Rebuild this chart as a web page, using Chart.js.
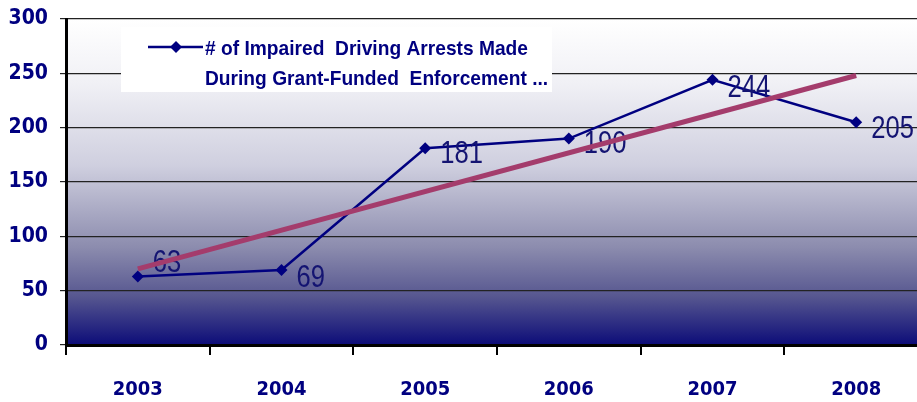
<!DOCTYPE html>
<html lang="en">
<head>
  <meta charset="UTF-8">
  <title>Impaired Driving Arrests</title>
  <script src="https://cdn.jsdelivr.net/npm/chart.js"></script>
  <style>
    body { margin: 0; background: #fff; overflow: hidden; }
    #wrap { position: absolute; left: 0; top: 0; width: 934px; height: 402px; }
  </style>
</head>
<body>
<div id="wrap"><canvas id="linha" width="934" height="402"></canvas></div>
<script>
// dados
var anos = ['2003', '2004', '2005', '2006', '2007', '2008'];
var prisoes = [63, 69, 181, 190, 244, 205];
// linha de tendencia: so as pontas
var tendencia = [70, null, null, null, null, 248];
var eixoMin = 0;
var eixoMax = 300;
var eixoPasso = 50;
var legendaLinhas = ['# of Impaired  Driving Arrests Made', 'During Grant-Funded  Enforcement ...'];

var azul = '#000080';
var condensada = '"DejaVu Sans Condensed", "Liberation Sans", sans-serif';
var fonte = '"Liberation Sans", Arial, sans-serif';

// texto "apertado" na horizontal (imita Arial Narrow)
function textoEstreito(ctx, txt, x, y, escala) {
  ctx.save();
  ctx.translate(x, y);
  ctx.scale(escala, 1);
  ctx.fillText(txt, 0, 0);
  ctx.restore();
}

// fundo degrade da area do grafico
var fundoPlugin = {
  id: 'fundo',
  beforeDraw: function(chart) {
    var a = chart.chartArea, ctx = chart.ctx;
    var g = ctx.createLinearGradient(0, a.top, 0, a.bottom);
    g.addColorStop(0, '#ffffff');
    g.addColorStop(0.2, '#f0f0f5');
    g.addColorStop(0.45, '#cfcfdf');
    g.addColorStop(0.7, '#8c8cae');
    g.addColorStop(0.85, '#575790');
    g.addColorStop(1, '#0c0c78');
    ctx.save();
    ctx.fillStyle = g;
    ctx.fillRect(a.left, a.top, a.right - a.left, a.bottom - a.top);
    ctx.restore();
  }
};

// rotulos dos valores, a direita de cada ponto
var rotulosPlugin = {
  id: 'rotulos',
  afterDatasetDraw: function(chart, args) {
    if (args.index !== 0) return;
    var dy = [-13, 8, 6, 6, 8, 7];
    var ctx = chart.ctx;
    ctx.save();
    ctx.font = '32px ' + fonte;
    ctx.fillStyle = '#141472';
    ctx.textAlign = 'left';
    ctx.textBaseline = 'middle';
    args.meta.data.forEach(function(p, i) {
      textoEstreito(ctx, String(prisoes[i]), p.x + 15, p.y + dy[i], 0.8);
    });
    ctx.restore();
  }
};

// legenda em caixa branca
var legendaPlugin = {
  id: 'legenda',
  afterDraw: function(chart) {
    var ctx = chart.ctx;
    ctx.save();
    ctx.fillStyle = '#ffffff';
    ctx.fillRect(121, 27, 431, 65);
    ctx.strokeStyle = azul;
    ctx.lineWidth = 2.5;
    ctx.beginPath();
    ctx.moveTo(148, 47);
    ctx.lineTo(203, 47);
    ctx.stroke();
    ctx.fillStyle = azul;
    ctx.beginPath();
    ctx.moveTo(176, 41);
    ctx.lineTo(182, 47);
    ctx.lineTo(176, 53);
    ctx.lineTo(170, 47);
    ctx.closePath();
    ctx.fill();
    ctx.font = 'bold 21px ' + fonte;
    ctx.textBaseline = 'alphabetic';
    var w = ctx.measureText(legendaLinhas[0]).width;
    var esc = 323 / w;
    textoEstreito(ctx, legendaLinhas[0], 205, 55, esc);
    textoEstreito(ctx, legendaLinhas[1], 205, 85, esc);
    ctx.restore();
  }
};

var ctx = document.getElementById('linha').getContext('2d');
var myChart = new Chart(ctx, {
  type: 'line',
  data: {
    labels: anos,
    datasets: [{
      label: 'arrests',
      data: prisoes,
      borderColor: azul,
      backgroundColor: azul,
      borderWidth: 2.5,
      pointStyle: 'rectRot',
      pointRadius: 6,
      pointBorderWidth: 0,
      tension: 0,
      order: 2
    }, {
      label: 'trend',
      data: tendencia,
      borderColor: '#a43c6c',
      borderWidth: 5,
      pointRadius: 0,
      spanGaps: true,
      order: 1
    }]
  },
  options: {
    responsive: false,
    animation: false,
    devicePixelRatio: 1,
    layout: { padding: { top: 19, right: 0, left: 0, bottom: 0 } },
    plugins: { legend: { display: false }, tooltip: { enabled: false } },
    scales: {
      x: {
        offset: true,
        grid: { offset: true, drawOnChartArea: false, tickLength: 10, color: '#000', lineWidth: 2 },
        border: { color: '#000', width: 3 },
        ticks: { color: azul, font: { size: 20, weight: 'bold', family: condensada }, padding: 23, maxRotation: 0 },
        afterFit: function(s) { s.height = 57; }
      },
      y: {
        min: eixoMin,
        max: eixoMax,
        grid: { color: '#222', lineWidth: 1.2, tickLength: 6 },
        border: { color: '#000', width: 3 },
        ticks: { stepSize: eixoPasso, color: azul, font: { size: 21, weight: 'bold', family: condensada }, padding: 12 },
        afterFit: function(s) { s.width = 66; s.paddingTop = 0; s.paddingBottom = 0; }
      }
    }
  },
  plugins: [fundoPlugin, rotulosPlugin, legendaPlugin]
});
</script>
</body>
</html>
